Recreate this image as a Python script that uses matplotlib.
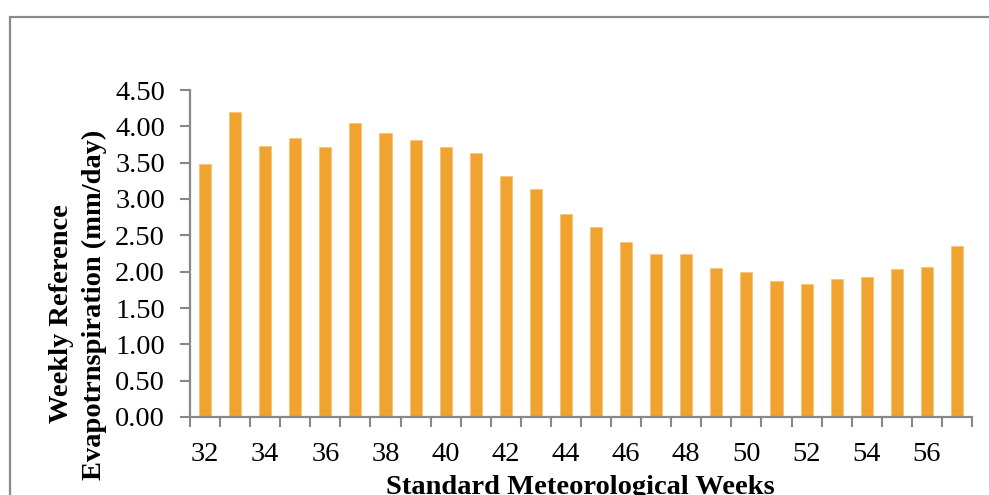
import matplotlib
matplotlib.use("Agg")
import matplotlib.pyplot as plt
from matplotlib.patches import Rectangle
import numpy as np

weeks = list(range(32, 58))
et0 = [3.48, 4.20, 3.73, 3.84, 3.71, 4.05, 3.91, 3.81, 3.72, 3.63,
       3.32, 3.14, 2.80, 2.61, 2.41, 2.24, 2.25, 2.05, 2.00, 1.87,
       1.83, 1.90, 1.93, 2.03, 2.06, 2.35]
yticks = [0.0, 0.5, 1.0, 1.5, 2.0, 2.5, 3.0, 3.5, 4.0, 4.5]
xlabels = list(range(32, 57, 2))

plt.rcParams['font.family'] = ['Liberation Serif', 'DejaVu Serif']
FS = 20.5

fig = plt.figure(figsize=(9.89, 4.95), dpi=100)
ax = fig.add_axes([190/989, 1-417/495, (972-190)/989, (417-90)/495])

ax.bar(weeks, et0, width=0.4, color='#F0A32F', edgecolor='#F5C47A', linewidth=0.6, zorder=2)

ax.set_xlim(31.5, 57.5)
ax.set_ylim(0, 4.5)
ax.set_yticks(yticks)
ax.set_yticklabels([f"{v:.2f}" for v in yticks], fontsize=FS)

ax.set_xticks(xlabels)
ax.set_xticklabels([str(w) for w in xlabels], fontsize=FS)
ax.tick_params(axis='x', which='major', length=0, pad=18)
ax.set_xticks(np.arange(31.5, 58.0, 1.0), minor=True)
ax.tick_params(axis='x', which='minor', length=7, width=1.5, color='#888888', direction='out')
ax.tick_params(axis='y', length=7, width=1.5, color='#888888', direction='out', pad=11)

for s in ['top', 'right']:
    ax.spines[s].set_visible(False)
for s in ['left', 'bottom']:
    ax.spines[s].set_color('#888888')
    ax.spines[s].set_linewidth(1.6)

fig.text(62/989, 1-314/495, 'Weekly Reference', rotation=90, ha='center', va='center',
         fontsize=FS, fontweight='bold')
fig.text(94/989, 1-305/495, 'Evapotrnspiration (mm/day)', rotation=90, ha='center', va='center',
         fontsize=FS, fontweight='bold')
fig.text(580/989, 1-488/495, 'Standard Meteorological Weeks', ha='center', va='center',
         fontsize=FS, fontweight='bold')

rect = Rectangle((10/989, -0.2), 1.2, 1.2 - 17/495, transform=fig.transFigure,
                 fill=False, edgecolor='#8a8a8a', linewidth=1.6, zorder=0)
fig.patches.append(rect)

fig.savefig('out.png', dpi=100, facecolor='white')
